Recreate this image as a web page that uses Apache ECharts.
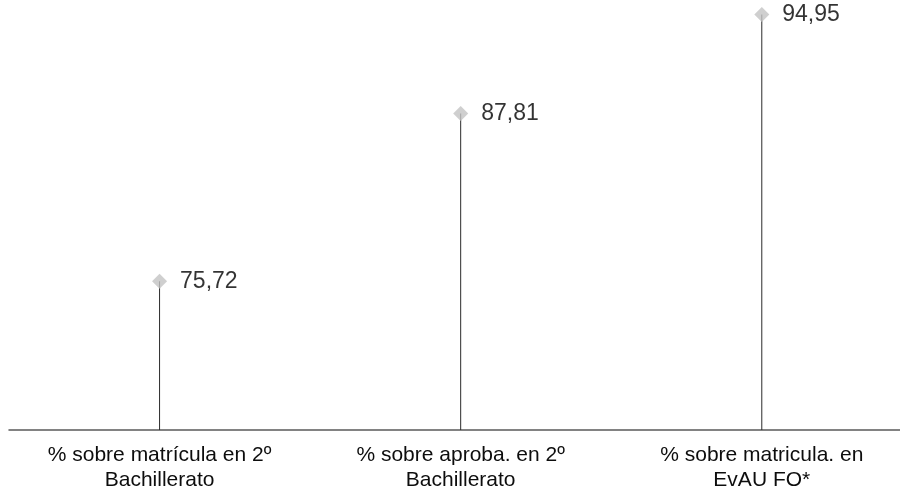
<!DOCTYPE html>
<html>
<head>
<meta charset="utf-8">
<script src="https://cdn.jsdelivr.net/npm/echarts@6/dist/echarts.min.js"></script>
<style>html,body{margin:0;padding:0;background:#fff}#c{width:900px;height:493px}</style>
</head>
<body>
<div id="c"></div>
<script>
const categories = ["% sobre matrícula en 2º\nBachillerato", "% sobre aproba. en 2º\nBachillerato", "% sobre matricula. en\nEvAU FO*"];
const values = [75.72, 87.81, 94.95];

const points = values.map((v, i) => [i, v]);

const chart = echarts.init(document.getElementById('c'));
chart.setOption({
  animation: false,
  backgroundColor: '#ffffff',
  grid: { left: 9, right: 0, top: 0, bottom: 63, containLabel: false },
  xAxis: {
    type: 'value',
    min: -0.5,
    max: 2.459,
    splitLine: { show: false },
    axisLine: { show: true, onZero: false, lineStyle: { color: '#595959', width: 1.5 } },
    axisTick: { show: false },
    axisLabel: {
      customValues: [0, 1, 2],
      formatter: v => categories[Math.round(v)] || '',
      margin: 13,
      color: '#0d0d0d',
      fontFamily: 'Liberation Sans, Arial, sans-serif',
      fontSize: 21,
      lineHeight: 25
    }
  },
  yAxis: {
    type: 'value',
    min: 65, max: 96,
    show: false,
    splitLine: { show: false }
  },
  series: [
    {
      type: 'bar',
      data: points,
      barWidth: 1,
      itemStyle: { color: '#2b2b2b' },
      silent: true
    },
    {
      type: 'scatter',
      data: points,
      symbol: 'diamond',
      symbolSize: 15,
      itemStyle: { color: '#c3c3c3' },
      z: 5,
      label: {
        show: true,
        position: 'right',
        distance: 13,
        color: '#000',
        fontFamily: 'Liberation Sans, Arial, sans-serif',
        fontSize: 23,
        formatter: p => p.value[1].toFixed(2).replace('.', ',')
      }
    }
  ]
});
</script>
</body>
</html>
